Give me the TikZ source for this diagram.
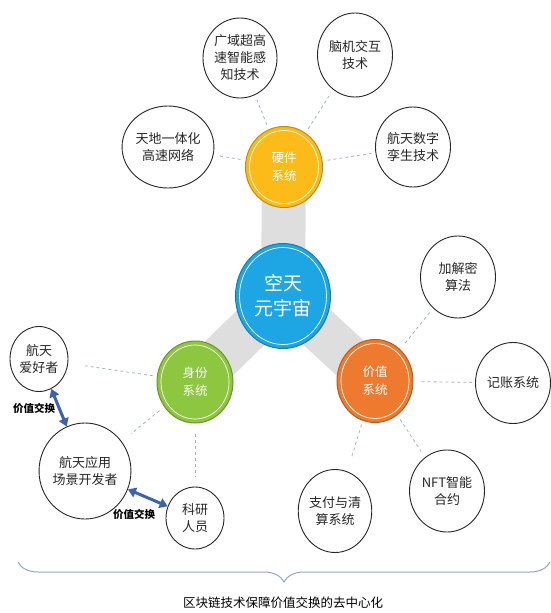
\documentclass[tikz,border=0pt]{standalone}
\usepackage{fontspec}
\setmainfont{Noto Sans CJK SC}
\usetikzlibrary{shapes.geometric,arrows.meta,decorations.pathreplacing,backgrounds}
\definecolor{hwyellow}{HTML}{FCBB18}
\definecolor{coreblue}{HTML}{1EA6E4}
\definecolor{idgreen}{HTML}{8DC63F}
\definecolor{valorange}{HTML}{EE7A2F}
\definecolor{bargray}{HTML}{DEDEDE}
\definecolor{linkblue}{HTML}{A3B3D1}
\definecolor{tradeblue}{HTML}{3E63A8}
\definecolor{braceblue}{HTML}{8FA6C9}
\begin{document}
\begin{tikzpicture}[x=1pt,y=-1pt,
  leaf/.style={ellipse,draw=black!85,line width=0.9pt,fill=white,text=black!85,
    minimum width=75pt,minimum height=82pt,inner sep=0pt,align=center,
    font=\fontsize{13}{17}\selectfont},
  hub/.style n args={3}{ellipse,draw=#1!75!black,line width=1pt,fill=#1,
    minimum width=76pt,minimum height=82pt,inner sep=0pt,align=center,
    text=white,font=\fontsize{12.5}{18}\selectfont,
    path picture={\draw[white,line width=0.7pt]
      (path picture bounding box.center) ellipse [x radius=#2,y radius=#3];}},
  link/.style={draw=linkblue,dashed,line width=0.8pt,shorten <=5pt,shorten >=4pt},
  trade/.style={draw=tradeblue,line width=3pt,<->,>={Triangle[length=8pt,width=10pt]}},
  bar/.style={draw=bargray,line width=44pt},
  tag/.style={font=\bfseries\fontsize{10.5}{12}\selectfont},
  brace/.style={draw=braceblue,line width=1pt,decorate,decoration={brace,amplitude=20pt}}]
\useasboundingbox (0,0) rectangle (551,613);
\node[hub={hwyellow}{34.5pt}{36.5pt},minimum width=77pt,minimum height=81pt] (hw) at (284,167) {硬件\\系统};
\node[hub={coreblue}{43.5pt}{48.5pt},minimum width=95pt,minimum height=105pt,
  font=\fontsize{19}{25}\selectfont] (core) at (283,296) {空天\\元宇宙};
\node[hub={idgreen}{34pt}{37pt}] (id) at (195,382) {身份\\系统};
\node[hub={valorange}{34pt}{37.5pt},minimum height=83pt] (val) at (375,381) {价值\\系统};
\begin{scope}[on background layer]
\draw[bar] (core.center) -- (hw.center);
\draw[bar] (core.center) -- (id.center);
\draw[bar] (core.center) -- (val.center);
\end{scope}
\node[leaf,minimum width=74pt,minimum height=80pt] (sense) at (240,58) {广域超高\\速智能感\\知技术};
\node[leaf,minimum height=84pt] (bci) at (355,55) {脑机交互\\技术};
\node[leaf] (net) at (168,147) {天地一体化\\高速网络};
\node[leaf,minimum height=80pt] (twin) at (413,147) {航天数字\\孪生技术};
\node[leaf] (crypto) at (458,277) {加解密\\算法};
\node[leaf,minimum height=81pt] (ledger) at (513,383) {记账系统};
\node[leaf] (nft) at (447,491) {NFT智能\\合约};
\node[leaf,minimum width=73pt,minimum height=83pt] (pay) at (335,511) {支付与清\\算系统};
\node[leaf,minimum width=58pt,minimum height=65pt] (fan) at (39,359) {航天\\爱好者};
\node[leaf,minimum width=90pt,minimum height=96pt] (dev) at (85,471) {航天应用\\场景开发者};
\node[leaf,minimum width=58pt,minimum height=62pt] (sci) at (195,518) {科研\\人员};
\draw[link] (hw) -- (sense);
\draw[link] (hw) -- (bci);
\draw[link] (hw) -- (net);
\draw[link] (hw) -- (twin);
\draw[link,shorten <=4pt,shorten >=17pt] (id) -- (fan);
\draw[link,shorten <=6pt,shorten >=12pt] (id) -- (dev);
\draw[link,shorten <=10pt,shorten >=10pt] (id) -- (sci);
\draw[link,shorten <=8pt,shorten >=4pt] (val) -- (crypto);
\draw[link,shorten <=8pt,shorten >=3pt] (val) -- (ledger);
\draw[link,shorten <=5pt,shorten >=7pt] (val) -- (nft);
\draw[link,shorten <=4pt,shorten >=13pt] (val) -- (pay);
\draw[trade] (fan) -- (dev);
\draw[trade] (dev) -- (sci);
\node[tag] (t1) at (34,408) {价值交换};
\node[tag] (t2) at (134,514) {价值交换};
\coordinate (bl) at (18,562);
\coordinate (br) at (550,562);
\draw[brace] (br) -- (bl);
\node[font=\fontsize{12.5}{15}\selectfont] (cap) at (283,603) {区块链技术保障价值交换的去中心化};
\end{tikzpicture}
\end{document}
